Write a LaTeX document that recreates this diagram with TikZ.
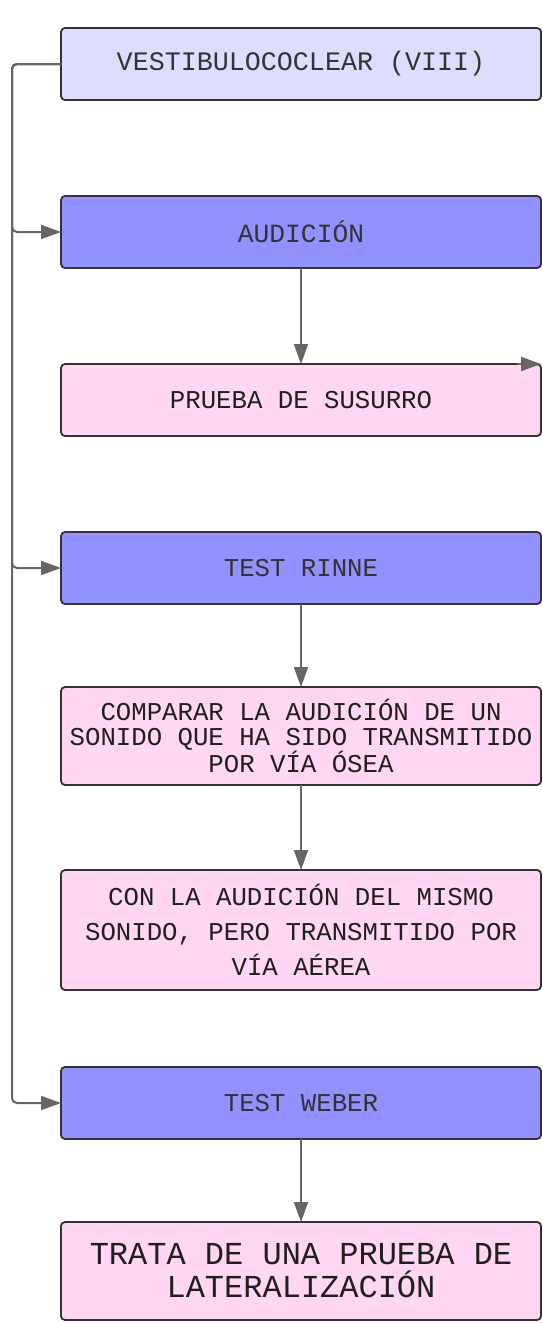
\documentclass[tikz,border=0pt]{standalone}
\usepackage{fontspec}
\setmainfont{Liberation Mono}
\usetikzlibrary{positioning,arrows.meta}

\definecolor{nervefill}{HTML}{DDDDFF}
\definecolor{testfill}{HTML}{9191FF}
\definecolor{notefill}{HTML}{FFD6F4}
\definecolor{boxline}{HTML}{333333}
\definecolor{linkgray}{HTML}{666666}

\tikzset{
  card/.style={draw=boxline, line width=1.8pt, rounded corners=4pt,
    minimum width=480pt, minimum height=72pt, align=center, text=black!88,
    font=\fontsize{25.7}{25}\selectfont, inner sep=0pt, outer sep=0pt},
  nerve/.style={card, fill=nervefill, text=boxline},
  testbox/.style={card, fill=testfill, text=boxline},
  note/.style={card, fill=notefill},
  link/.style={draw=linkgray, line width=2pt,
    -{Triangle[length=20pt,width=14pt]}, linkgray}
}

\begin{document}
\begin{tikzpicture}[x=1pt,y=-1pt]
  \useasboundingbox (0,0) rectangle (542,1323);

  \node [nerve, font=\fontsize{26.7}{25}\selectfont] (vest) at (301,64)
    {VESTIBULOCOCLEAR (VIII)};
  \node [testbox, below=96pt of vest, font=\fontsize{26.3}{25}\selectfont] (aud)
    {AUDICIÓN};
  \node [note, below=96pt of aud] (susurro) {PRUEBA DE SUSURRO};
  \node [testbox, below=96pt of susurro] (rinne) {TEST RINNE};
  \node [note, below=83pt of rinne, minimum height=98pt] (osea)
    {COMPARAR LA AUDICIÓN DE UN\\SONIDO QUE HA SIDO TRANSMITIDO\\POR VÍA ÓSEA};
  \node [note, below=85pt of osea, minimum height=120pt,
    font=\fontsize{25.7}{35}\selectfont] (aerea)
    {CON LA AUDICIÓN DEL MISMO\\SONIDO, PERO TRANSMITIDO POR\\VÍA AÉREA};
  \node [testbox, below=77pt of aerea] (weber) {TEST WEBER};
  \node [note, below=83pt of weber, minimum height=98pt,
    font=\fontsize{32}{33}\selectfont] (lateral)
    {TRATA DE UNA PRUEBA DE\\LATERALIZACIÓN};

  \coordinate (trunk) at ([xshift=-49pt]vest.west);
  \coordinate (stub) at ([xshift=-24pt]susurro.north east);

  % tronco izquierdo
  \draw [link, rounded corners=5pt] (vest.west) -- (trunk) |- (aud.west);
  \draw [link, rounded corners=5pt] (vest.west) -- (trunk) |- (rinne.west);
  \draw [link, rounded corners=5pt] (vest.west) -- (trunk) |- (weber.west);

  \draw [link] (aud) -- (susurro);
  \draw [link] (stub) -- (susurro.north east);
  \draw [link] (rinne) -- (osea);
  \draw [link] (osea) -- (aerea);
  \draw [link] (weber) -- (lateral);
\end{tikzpicture}
\end{document}
